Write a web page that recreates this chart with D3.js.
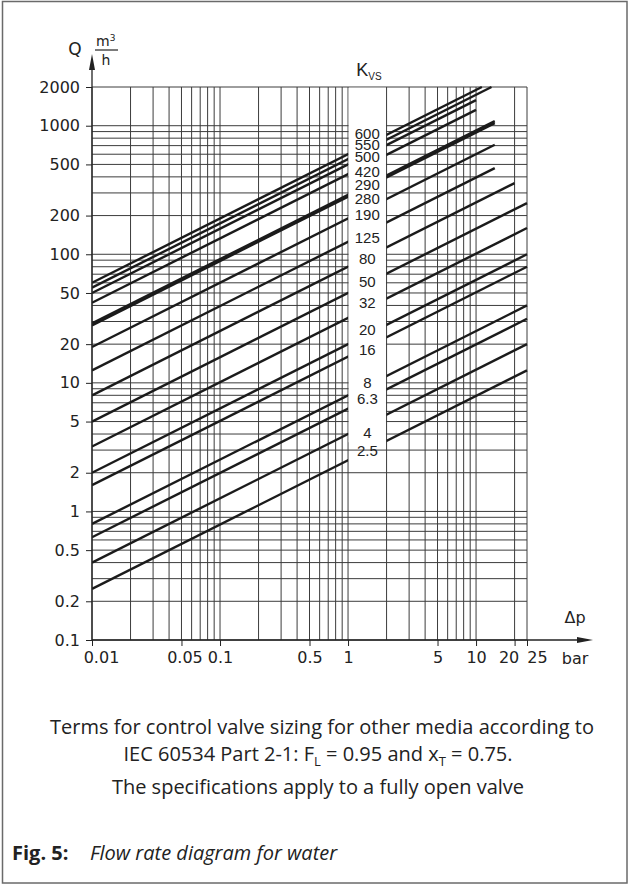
<!DOCTYPE html>
<html>
<head>
<meta charset="utf-8">
<script src="https://cdn.jsdelivr.net/npm/d3@7"></script>
<style>
body { margin: 0; background: #fff; }
svg { display: block; }
.axis text { font-family: "DejaVu Sans", sans-serif; font-size: 16px; fill: #222; }
.axis line { stroke: #222; }
.kvs { font-family: "Liberation Sans", sans-serif; font-size: 15px; fill: #222; }
.note { font-family: "Open Sans", sans-serif; font-size: 20px; fill: #222; }
</style>
</head>
<body>
<div id="chart"></div>
<script>
//--------------------------- DATA ---------------------------//
// Kvs values, one straight line each (log-log)
var kvs    = [2.5, 4, 6.3, 8, 16, 20, 32, 50, 80, 125, 190, 280, 290, 420, 500, 550, 600];
// flow at the left edge, dp = 0.01 bar
var qStart = [0.25, 0.4, 0.63, 0.8, 1.6, 2, 3.2, 5, 8, 12.5, 19, 28, 29, 42, 50, 55, 60];
// where each line stops on the right
var dpEnd  = [25, 25, 25, 25, 25, 25, 25, 25, 20, 14, 14, 14, 14, 10, 10, 13.2, 11.1];
var qEnd   = [12.5, 20, 31.5, 40, 80, 100, 160, 250, 358, 468, 711, 1048, 1085, 1328, 1581, 2000, 2000];
// Q level at which each Kvs label is written in the blank band
var labelQ = [2.95, 4.1, 7.6, 10, 18.3, 26, 42, 61, 93, 136, 205, 270, 350, 436, 570, 707, 875];

var xTicks = [0.01, 0.05, 0.1, 0.5, 1, 5, 10, 20, 25];
var xTickLabels = ["0.01", "0.05", "0.1", "0.5", "1", "5", "10", "20", "25"];
var yTicks = [0.1, 0.2, 0.5, 1, 2, 5, 10, 20, 50, 100, 200, 500, 1000, 2000];
var yTickLabels = ["0.1", "0.2", "0.5", "1", "2", "5", "10", "20", "50", "100", "200", "500", "1000", "2000"];
var xGrid = [0.01, 0.02, 0.03, 0.04, 0.05, 0.06, 0.07, 0.08, 0.09,
             0.1, 0.2, 0.3, 0.4, 0.5, 0.6, 0.7, 0.8, 0.9,
             1, 2, 3, 4, 5, 6, 7, 8, 9, 10, 20, 25];
var yGrid = [0.1, 0.2, 0.3, 0.4, 0.5, 0.6, 0.7, 0.8, 0.9,
             1, 2, 3, 4, 5, 6, 7, 8, 9,
             10, 20, 30, 40, 50, 60, 70, 80, 90,
             100, 200, 300, 400, 500, 600, 700, 800, 900, 1000, 2000];
var gap = [1, 2];        // blank band for the Kvs labels (bar)
var gapBottomQ = 3.5;    // band stops above this Q

//------------------------- SVG ------------------------------//
const width = 629;
const height = 885;

const svg = d3.select("#chart").append("svg")
    .attr("width", width)
    .attr("height", height);

// frame round the figure
svg.append("rect")
    .attr("x", 2.5).attr("y", 1.5)
    .attr("width", 624.5).attr("height", 881.5)
    .attr("fill", "none")
    .attr("stroke", "#6a6a6a")
    .attr("stroke-width", 1.5);

//------------------------ SCALES ----------------------------//
const xScale = d3.scaleLog().domain([0.01, 25]).range([92, 527]);
const yScale = d3.scaleLog().domain([0.1, 2000]).range([640, 87]);

const x0 = xScale.range()[0], x1 = xScale.range()[1];
const yTop = yScale.range()[1], yBot = yScale.range()[0];

//------------------------- GRID -----------------------------//
const grid = svg.append("g").attr("stroke", "#3c3c3c").attr("stroke-width", 1);

grid.selectAll("line.v").data(xGrid).enter().append("line")
    .attr("class", "v")
    .attr("x1", d => xScale(d)).attr("x2", d => xScale(d))
    .attr("y1", yTop).attr("y2", yBot);

grid.selectAll("line.h").data(yGrid).enter().append("line")
    .attr("class", "h")
    .attr("x1", x0).attr("x2", x1)
    .attr("y1", d => yScale(d)).attr("y2", d => yScale(d));

// blank band between 1 and 2 bar
svg.append("rect")
    .attr("x", xScale(gap[0]) + 0.6)
    .attr("y", yTop + 0.8)
    .attr("width", xScale(gap[1]) - xScale(gap[0]) - 1.2)
    .attr("height", yScale(gapBottomQ) - yTop)
    .attr("fill", "#fff");

//------------------------- LINES ----------------------------//
const clip = svg.append("clipPath").attr("id", "nogap");
clip.append("rect")
    .attr("x", x0).attr("y", yTop - 2)
    .attr("width", xScale(gap[0]) - x0).attr("height", yBot - yTop + 4);
clip.append("rect")
    .attr("x", xScale(gap[1])).attr("y", yTop - 2)
    .attr("width", x1 - xScale(gap[1]) + 2).attr("height", yBot - yTop + 4);

const lines = kvs.map(function(k, i) {
    return [[0.01, qStart[i]], [dpEnd[i], qEnd[i]]];
});

const line = d3.line()
    .x(d => xScale(d[0]))
    .y(d => yScale(d[1]));

svg.append("g")
    .attr("clip-path", "url(#nogap)")
    .selectAll("path").data(lines).enter().append("path")
    .attr("d", line)
    .attr("fill", "none")
    .attr("stroke", "#1b1b1b")
    .attr("stroke-width", 2.4);

// Kvs labels in the band
svg.append("g").selectAll("text").data(kvs).enter().append("text")
    .attr("class", "kvs")
    .attr("x", (xScale(gap[0]) + xScale(gap[1])) / 2)
    .attr("y", (d, i) => yScale(labelQ[i]))
    .attr("dy", "0.36em")
    .attr("text-anchor", "middle")
    .text(d => String(d));

const kl = svg.append("text").attr("class", "kvs")
    .attr("x", (xScale(gap[0]) + xScale(gap[1])) / 2 - 11)
    .attr("y", 76)
    .style("font-size", "18px");
kl.append("tspan").text("K");
kl.append("tspan").attr("dy", 4).style("font-size", "10px").text("VS");

//------------------------- AXES -----------------------------//
const xAxis = d3.axisBottom(xScale)
    .tickValues(xTicks)
    .tickFormat((d, i) => xTickLabels[i])
    .tickSize(6)
    .tickPadding(6);

const yAxis = d3.axisLeft(yScale)
    .tickValues(yTicks)
    .tickFormat((d, i) => yTickLabels[i])
    .tickSize(6)
    .tickPadding(6);

const gx = svg.append("g").attr("class", "axis")
    .attr("transform", "translate(0," + yBot + ")")
    .call(xAxis);
gx.select(".domain").remove();
// nudge crowded labels apart like the original
const nudge = {"0.01": 9, "0.05": 3, "20": -6, "25": 10};
gx.selectAll(".tick text").attr("dx", function(d, i) { return nudge[xTickLabels[i]] || 0; });

const gy = svg.append("g").attr("class", "axis")
    .attr("transform", "translate(" + x0 + ",0)")
    .call(yAxis);
gy.select(".domain").remove();

// axis lines with arrow heads
svg.append("line")
    .attr("x1", x0).attr("x2", x1 + 60)
    .attr("y1", yBot).attr("y2", yBot)
    .attr("stroke", "#222").attr("stroke-width", 1.3);
svg.append("path")
    .attr("d", "M" + (x1 + 66) + "," + yBot + "l-16,-3l0,6z")
    .attr("fill", "#222");

svg.append("line")
    .attr("x1", x0).attr("x2", x0)
    .attr("y1", yBot).attr("y2", 62)
    .attr("stroke", "#222").attr("stroke-width", 1.3);
svg.append("path")
    .attr("d", "M" + x0 + ",54l-3,16l6,0z")
    .attr("fill", "#222");

// axis titles
svg.append("text")
    .attr("x", 575).attr("y", 623)
    .attr("text-anchor", "middle")
    .style("font-family", "DejaVu Sans").style("font-size", "16px").attr("fill", "#222")
    .text("Δp");
svg.append("text")
    .attr("x", 575).attr("y", 664)
    .attr("text-anchor", "middle")
    .style("font-family", "DejaVu Sans").style("font-size", "16px").attr("fill", "#222")
    .text("bar");

svg.append("text")
    .attr("x", 75).attr("y", 55)
    .attr("text-anchor", "middle")
    .style("font-family", "DejaVu Sans").style("font-size", "17px").attr("fill", "#222")
    .text("Q");
const mu = svg.append("text")
    .attr("x", 96).attr("y", 46)
    .style("font-family", "DejaVu Sans").style("font-size", "14px").attr("fill", "#222");
mu.append("tspan").text("m");
mu.append("tspan").attr("dy", -5).style("font-size", "9px").text("3");
svg.append("line")
    .attr("x1", 95).attr("x2", 118).attr("y1", 50).attr("y2", 50)
    .attr("stroke", "#222").attr("stroke-width", 1.2);
svg.append("text")
    .attr("x", 106).attr("y", 65)
    .attr("text-anchor", "middle")
    .style("font-family", "DejaVu Sans").style("font-size", "14px").attr("fill", "#222")
    .text("h");

//------------------------ CAPTION ---------------------------//
svg.append("text").attr("class", "note")
    .attr("x", 322).attr("y", 734)
    .attr("text-anchor", "middle")
    .text("Terms for control valve sizing for other media according to");

const t2 = svg.append("text").attr("class", "note")
    .attr("x", 318).attr("y", 761)
    .attr("text-anchor", "middle");
t2.append("tspan").text("IEC 60534 Part 2-1: F");
t2.append("tspan").attr("dy", 5).style("font-size", "13px").text("L");
t2.append("tspan").attr("dy", -5).text(" = 0.95 and x");
t2.append("tspan").attr("dy", 5).style("font-size", "13px").text("T");
t2.append("tspan").attr("dy", -5).text(" = 0.75.");

svg.append("text").attr("class", "note")
    .attr("x", 318).attr("y", 794)
    .attr("text-anchor", "middle")
    .text("The specifications apply to a fully open valve");

const fig = svg.append("text").attr("class", "note")
    .attr("x", 12).attr("y", 860)
    .style("font-size", "20px");
fig.append("tspan").style("font-weight", "bold").text("Fig. 5:");
fig.append("tspan").attr("x", 90).style("font-style", "italic").text("Flow rate diagram for water");
</script>
</body>
</html>
